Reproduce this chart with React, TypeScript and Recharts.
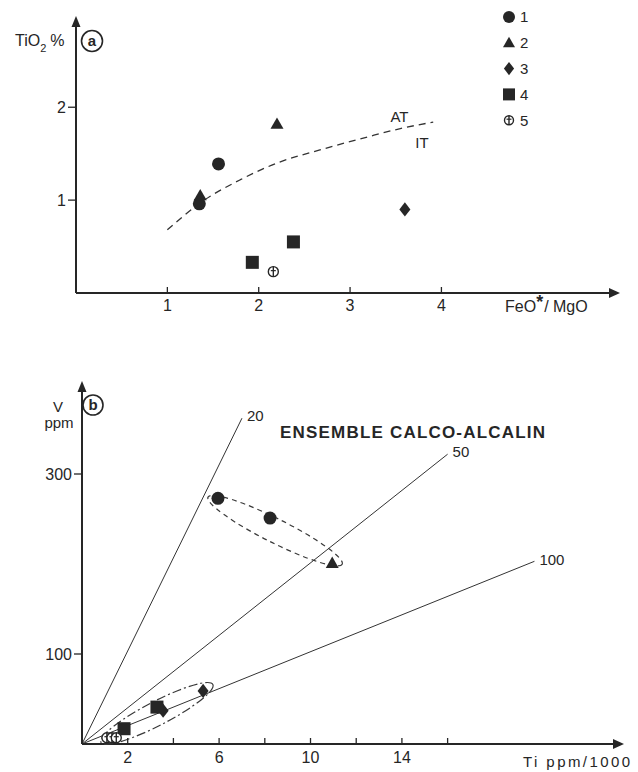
import React from 'react';
import { ComposedChart, Scatter, Line, XAxis, YAxis, ReferenceDot, ReferenceLine } from 'recharts';

const INK = '#262626';
const FONT = '"Liberation Sans", Arial, Helvetica, sans-serif';

// legend groups
const groupNames = ['1', '2', '3', '4', '5'];
const groupShapes = ['circle', 'triangle', 'diamond', 'square', 'phi'];

// (a) TiO2 % vs FeO*/MgO
const aGroup1 = [{ x: 1.56, y: 1.39 }, { x: 1.35, y: 0.96 }];
const aGroup2 = [{ x: 2.2, y: 1.82 }, { x: 1.36, y: 1.05 }];
const aGroup3 = [{ x: 3.6, y: 0.9 }];
const aGroup4 = [{ x: 1.93, y: 0.33 }, { x: 2.38, y: 0.55 }];
const aGroup5 = [{ x: 2.16, y: 0.23 }];
const atItBoundary = [
  { x: 1.0, y: 0.68 },
  { x: 1.36, y: 0.97 },
  { x: 1.8, y: 1.22 },
  { x: 2.23, y: 1.41 },
  { x: 2.67, y: 1.54 },
  { x: 3.19, y: 1.68 },
  { x: 3.55, y: 1.77 },
  { x: 3.91, y: 1.84 },
];
const aXTicks = [1, 2, 3, 4];
const aYTicks = [1, 2];

// (b) V ppm vs Ti ppm/1000
const bGroup1 = [{ x: 5.95, y: 273 }, { x: 8.23, y: 251 }];
const bGroup2 = [{ x: 10.95, y: 201 }];
const bGroup3 = [{ x: 5.3, y: 59 }, { x: 3.55, y: 37 }];
const bGroup4 = [{ x: 3.28, y: 41 }, { x: 1.84, y: 17 }];
const bGroup5 = [{ x: 1.09, y: 7 }, { x: 1.31, y: 7 }, { x: 1.5, y: 7 }];
const ratioLabels = ['20', '50', '100'];
const ratioEndX = [7.0, 16.0, 19.8];
const ratioEndY = [362, 322, 203];
const bXTicks = [2, 4, 6, 8, 10, 12, 14, 16];
const bXLabels = [2, 6, 10, 14];
const bYTicks = [100, 300];
const envelopeCenters = [{ x: 8.45, y: 237 }, { x: 3.28, y: 34 }];

function Marker({ cx, cy, kind, size = 13 }: any) {
  const r = size / 2;
  if (cx == null || cy == null) return null;
  switch (kind) {
    case 'circle':
      return <circle cx={cx} cy={cy} r={r} fill={INK} />;
    case 'triangle':
      return <polygon points={`${cx},${cy - r} ${cx + r},${cy + r * 0.75} ${cx - r},${cy + r * 0.75}`} fill={INK} />;
    case 'diamond':
      return <polygon points={`${cx},${cy - r * 1.1} ${cx + r * 0.85},${cy} ${cx},${cy + r * 1.1} ${cx - r * 0.85},${cy}`} fill={INK} />;
    case 'square':
      return <rect x={cx - r} y={cy - r} width={size} height={size} fill={INK} />;
    default:
      return (
        <g>
          <circle cx={cx} cy={cy} r={r - 1.5} fill="#fff" stroke={INK} strokeWidth={1.4} />
          <line x1={cx} y1={cy - r + 1.5} x2={cx} y2={cy + r - 1.5} stroke={INK} strokeWidth={1.4} />
          <line x1={cx - 2.5} y1={cy - 1} x2={cx + 2.5} y2={cy - 1} stroke={INK} strokeWidth={1.2} />
        </g>
      );
  }
}

const shapeFor = (kind: string) => (p: any) => <Marker cx={p.cx} cy={p.cy} kind={kind} />;

const bottomTick = (labels: number[], dy: number) => (props: any) => {
  const { x, y, payload } = props;
  return (
    <g>
      <line x1={x} y1={y} x2={x} y2={y - 6} stroke={INK} strokeWidth={1.3} />
      {labels.includes(payload.value) && (
        <text x={x} y={y + dy} textAnchor="middle" fontSize={16} fill={INK} fontFamily={FONT}>
          {payload.value}
        </text>
      )}
    </g>
  );
};

const leftTick = (props: any) => {
  const { x, y, payload } = props;
  return (
    <g>
      <line x1={x} y1={y} x2={x - 8} y2={y} stroke={INK} strokeWidth={1.3} />
      <text x={x - 10} y={y} dy="0.36em" textAnchor="end" fontSize={16} fill={INK} fontFamily={FONT}>
        {payload.value}
      </text>
    </g>
  );
};

const arrowRight = (p: any) => (
  <polygon points={`${p.cx - 6},${p.cy - 5} ${p.cx + 5},${p.cy} ${p.cx - 6},${p.cy + 5}`} fill={INK} />
);
const arrowUp = (p: any) => (
  <polygon points={`${p.cx - 4.5},${p.cy + 8} ${p.cx},${p.cy - 3} ${p.cx + 4.5},${p.cy + 8}`} fill={INK} />
);

const textDot = (value: string, dx: number, dy: number, size = 15) => (p: any) => (
  <text x={p.cx + dx} y={p.cy + dy} dy="0.35em" fontSize={size} fill={INK} fontFamily={FONT}>
    {value}
  </text>
);

const ellipseDot = (rx: number, ry: number, angle: number, dash: string) => (p: any) => (
  <ellipse
    cx={p.cx}
    cy={p.cy}
    rx={rx}
    ry={ry}
    transform={`rotate(${angle} ${p.cx} ${p.cy})`}
    fill="none"
    stroke="#3a3a3a"
    strokeWidth={1.2}
    strokeDasharray={dash}
  />
);

export default function App() {
  const aSeries = [aGroup1, aGroup2, aGroup3, aGroup4, aGroup5];
  const bSeries = [bGroup1, bGroup2, bGroup3, bGroup4, bGroup5];

  return (
    <div style={{ position: 'absolute', left: 0, top: 0, width: 638, height: 772, background: '#fff', fontFamily: FONT }}>
      {/* chart (a) */}
      <div style={{ position: 'absolute', left: 0, top: 0 }}>
        <ComposedChart width={638} height={330} margin={{ top: 19, right: 23, bottom: 7, left: 36 }}>
          <XAxis
            type="number"
            dataKey="x"
            domain={[0, 5.9]}
            ticks={aXTicks}
            height={30}
            tickSize={0}
            tickMargin={0}
            tick={bottomTick(aXTicks, 18)}
            axisLine={{ stroke: INK, strokeWidth: 2 }}
          />
          <YAxis
            type="number"
            dataKey="y"
            domain={[0, 2.95]}
            ticks={aYTicks}
            width={40}
            tickSize={0}
            tickMargin={0}
            tick={leftTick}
            axisLine={{ stroke: INK, strokeWidth: 2 }}
          />
          <Line
            data={atItBoundary}
            dataKey="y"
            type="monotone"
            stroke="#333"
            strokeWidth={1.3}
            strokeDasharray="7 5"
            dot={false}
            activeDot={false}
            isAnimationActive={false}
          />
          {aSeries.map((d, i) => (
            <Scatter key={i} data={d} dataKey="y" shape={shapeFor(groupShapes[i])} isAnimationActive={false} />
          ))}
          <ReferenceDot x={3.54} y={1.9} r={0} shape={textDot('AT', -9, 0)} ifOverflow="visible" />
          <ReferenceDot x={3.78} y={1.62} r={0} shape={textDot('IT', -6, 0)} ifOverflow="visible" />
          <ReferenceDot x={5.9} y={0} shape={arrowRight} ifOverflow="visible" />
          <ReferenceDot x={0} y={2.95} shape={arrowUp} ifOverflow="visible" />
        </ComposedChart>
      </div>

      {/* chart (b) */}
      <div style={{ position: 'absolute', left: 0, top: 340 }}>
        <ComposedChart width={638} height={432} margin={{ top: 44, right: 19, bottom: 8, left: 42 }}>
          <XAxis
            type="number"
            dataKey="x"
            domain={[0, 23.5]}
            ticks={bXTicks}
            height={20}
            tickSize={0}
            tickMargin={0}
            tick={bottomTick(bXLabels, 19)}
            axisLine={{ stroke: INK, strokeWidth: 2 }}
          />
          <YAxis
            type="number"
            dataKey="y"
            domain={[0, 400]}
            ticks={bYTicks}
            width={40}
            tickSize={0}
            tickMargin={0}
            tick={leftTick}
            axisLine={{ stroke: INK, strokeWidth: 2 }}
          />
          {ratioLabels.map((lab, i) => (
            <ReferenceLine
              key={lab}
              segment={[{ x: 0, y: 0 }, { x: ratioEndX[i], y: ratioEndY[i] }]}
              stroke="#333"
              strokeWidth={1}
            />
          ))}
          {ratioLabels.map((lab, i) => (
            <ReferenceDot key={'l' + lab} x={ratioEndX[i]} y={ratioEndY[i]} r={0} shape={textDot(lab, 5, -2)} ifOverflow="visible" />
          ))}
          <ReferenceDot x={envelopeCenters[0].x} y={envelopeCenters[0].y} shape={ellipseDot(75, 12, 26.6, '5 4')} ifOverflow="visible" />
          <ReferenceDot x={envelopeCenters[1].x} y={envelopeCenters[1].y} shape={ellipseDot(63, 12, -27.4, '9 3 2 3')} ifOverflow="visible" />
          {bSeries.map((d, i) => (
            <Scatter key={i} data={d} dataKey="y" shape={shapeFor(groupShapes[i])} isAnimationActive={false} />
          ))}
          <ReferenceDot x={23.5} y={0} shape={arrowRight} ifOverflow="visible" />
          <ReferenceDot x={0} y={400} shape={arrowUp} ifOverflow="visible" />
        </ComposedChart>
      </div>

      {/* legend, axis titles and panel tags */}
      <svg width={638} height={772} style={{ position: 'absolute', left: 0, top: 0, pointerEvents: 'none' }}>
        <g fill={INK} fontFamily={FONT}>
          {groupNames.map((name, i) => (
            <g key={name}>
              <Marker cx={509} cy={17 + i * 25.8} kind={groupShapes[i]} size={12} />
              <text x={520} y={17 + i * 25.8} dy="0.36em" fontSize={15}>
                {name}
              </text>
            </g>
          ))}
          <text x={15} y={46} fontSize={16}>
            TiO<tspan fontSize={11} dy={6}>2</tspan>
            <tspan dy={-6} dx={4}>%</tspan>
          </text>
          <circle cx={92} cy={41} r={10.5} fill="none" stroke={INK} strokeWidth={1.6} />
          <text x={92} y={41} dy="0.35em" textAnchor="middle" fontSize={15} fontWeight="bold">a</text>
          <text x={505} y={312} fontSize={16}>
            FeO<tspan fontSize={18} fontWeight="bold" dy={-4}>*</tspan>
            <tspan dy={4} dx={1}>/ MgO</tspan>
          </text>

          <circle cx={93} cy={405} r={10} fill="none" stroke={INK} strokeWidth={1.6} />
          <text x={93} y={405} dy="0.35em" textAnchor="middle" fontSize={15} fontWeight="bold">b</text>
          <text x={58} y={412} textAnchor="middle" fontSize={15}>V</text>
          <text x={59} y={428} textAnchor="middle" fontSize={15}>ppm</text>
          <text x={280} y={438} fontSize={17} fontWeight="bold" textLength={265} lengthAdjust="spacing">
            ENSEMBLE CALCO-ALCALIN
          </text>
          <text x={523} y={767} fontSize={15} textLength={107} lengthAdjust="spacing">
            Ti ppm/1000
          </text>
        </g>
      </svg>
    </div>
  );
}
